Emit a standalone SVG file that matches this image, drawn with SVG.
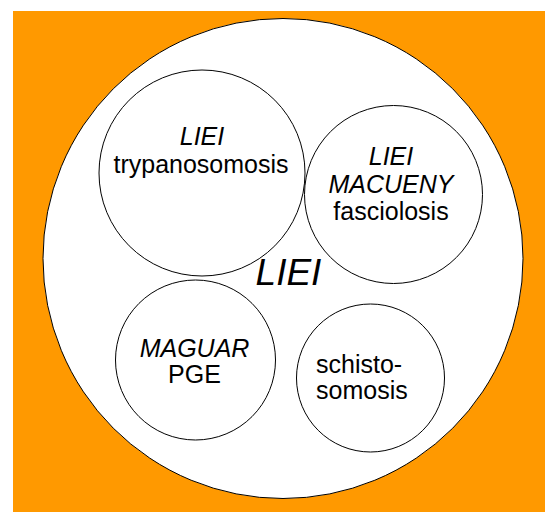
<svg xmlns="http://www.w3.org/2000/svg" width="545" height="512" viewBox="0 0 545 512">
<style>
.c{fill:#fff;stroke:#000;stroke-width:1}
.t{font-family:"Liberation Sans",Arial,sans-serif;font-size:25px;fill:#000}
.i{font-style:italic}
.m{text-anchor:middle}
</style>
<rect x="0" y="0" width="545" height="512" fill="#fff"/>
<rect x="13" y="11" width="532" height="501" fill="#ff9900"/>
<g id="outer">
<circle class="c" cx="283" cy="258.5" r="240" stroke-width="1.2"/>
<text class="t i m" x="288.5" y="285" style="font-size:37px">LIEI</text>
</g>
<g id="trypanosomosis">
<circle class="c" cx="202" cy="173" r="103"/>
<text class="t i m" x="202" y="145">LIEI</text>
<text class="t m" x="201" y="173">trypanosomosis</text>
</g>
<g id="fasciolosis">
<circle class="c" cx="393.5" cy="194.5" r="89"/>
<text class="t i m" x="391" y="165">LIEI</text>
<text class="t i m" x="391" y="193">MACUENY</text>
<text class="t m" x="391" y="220">fasciolosis</text>
</g>
<g id="pge">
<circle class="c" cx="195.5" cy="360" r="80"/>
<text class="t i m" x="194.5" y="357">MAGUAR</text>
<text class="t m" x="194.5" y="383">PGE</text>
</g>
<g id="schistosomosis">
<circle class="c" cx="370.5" cy="378" r="74"/>
<text class="t" x="316" y="373">schisto-</text>
<text class="t" x="316" y="399">somosis</text>
</g>
<g id="connectors"/>
</svg>
